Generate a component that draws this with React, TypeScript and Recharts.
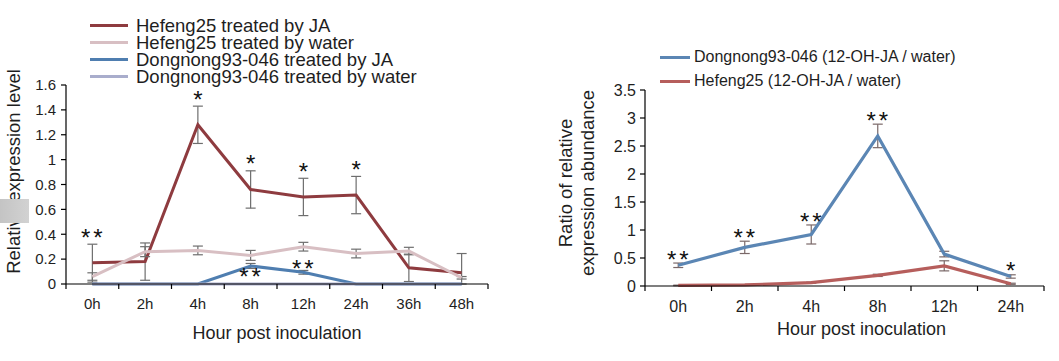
import React from 'react';
import { ComposedChart, Line, XAxis, YAxis, ErrorBar, LabelList, Legend, Label } from 'recharts';

// ---------- Left chart data ----------
const leftHours = ['0h', '2h', '4h', '8h', '12h', '24h', '36h', '48h'];
const hfJA = [0.17, 0.18, 1.28, 0.76, 0.7, 0.715, 0.13, 0.09];
const hfJAErrLow = [0.155, 0.15, 0.15, 0.15, 0.15, 0.15, 0.11, 0.09];
const hfJAErrHigh = [0.15, 0.15, 0.15, 0.15, 0.15, 0.15, 0.11, 0.155];
const hfWater = [0.06, 0.26, 0.27, 0.23, 0.3, 0.245, 0.265, 0.05];
const hfWaterErr = [0.03, 0.04, 0.035, 0.04, 0.035, 0.035, 0.03, 0.01];
const dnJA = [0, 0, 0, 0.145, 0.094, 0, 0, 0];
const dnJAErr = [0, 0, 0, 0.02, 0.015, 0, 0, 0];
const dnWater = [0, 0, 0, 0, 0, 0, 0, 0];
const dnWaterErr = [0, 0, 0, 0, 0, 0, 0, 0];
const hfStars = ['**', '', '*', '*', '*', '*', '', ''];
const dnStars = ['', '', '', '**', '**', '', '', ''];
const dnStarsBelow = [false, false, false, true, false, false, false, false];
const leftTicks = [0, 0.2, 0.4, 0.6, 0.8, 1, 1.2, 1.4, 1.6];
const leftNames = [
  'Hefeng25 treated by JA',
  'Hefeng25 treated by water',
  'Dongnong93-046 treated by JA',
  'Dongnong93-046 treated by water',
];

// ---------- Right chart data ----------
const rightHours = ['0h', '2h', '4h', '8h', '12h', '24h'];
const dnRatio = [0.37, 0.69, 0.92, 2.68, 0.57, 0.17];
const dnRatioErr = [0.04, 0.11, 0.17, 0.21, 0.05, 0.03];
const hfRatio = [0.01, 0.02, 0.06, 0.19, 0.36, 0.04];
const hfRatioErr = [0.005, 0.005, 0.01, 0.02, 0.09, 0.01];
const ratioStars = ['**', '**', '**', '**', '', '*'];
const rightTicks = [0, 0.5, 1, 1.5, 2, 2.5, 3, 3.5];
const rightNames = ['Dongnong93-046 (12-OH-JA / water)', 'Hefeng25 (12-OH-JA / water)'];

const leftData = leftHours.map((hour, i) => ({
  hour,
  hfJA: hfJA[i],
  hfJAErr: [hfJAErrLow[i], hfJAErrHigh[i]],
  hfJATop: hfJA[i] + hfJAErrHigh[i],
  hfWater: hfWater[i],
  hfWaterErr: hfWaterErr[i],
  dnJA: dnJA[i],
  dnJAErr: dnJAErr[i],
  dnWater: dnWater[i],
  dnWaterErr: dnWaterErr[i],
}));

const rightData = rightHours.map((hour, i) => ({
  hour,
  dn: dnRatio[i],
  dnErr: dnRatioErr[i],
  dnTop: dnRatio[i] + dnRatioErr[i],
  hf: hfRatio[i],
  hfErr: hfRatioErr[i],
}));

const FONT = "'Liberation Sans', Arial, sans-serif";
const TXT = '#1e1e1e';

// colors
const C_HF_JA = '#8e3b3f';
const C_HF_W = '#d8bfc3';
const C_DN_JA = '#4f7eb0';
const C_DN_W = '#a9adcc';
const C_R_DN = '#5b86b4';
const C_R_HF = '#b65e5c';

// layout constants
const L_W = 500;
const L_YW = 66;
const L_MR = 12;
const R_W = 519;
const R_YW = 105;
const R_MR = 15;
const H = 361;

const makeXTick = (n: number, bw: number, fs: number, dy: number) => (props: any) => {
  const { x, y, payload, index } = props;
  return (
    <g>
      <text x={x} y={y + dy} textAnchor="middle" fontSize={fs} fill={TXT} fontFamily={FONT}>
        {payload.value}
      </text>
      <line x1={x - bw / 2} x2={x - bw / 2} y1={y} y2={y + 5} stroke="#000" strokeWidth={1.2} />
      {index === n - 1 && (
        <line x1={x + bw / 2} x2={x + bw / 2} y1={y} y2={y + 5} stroke="#000" strokeWidth={1.2} />
      )}
    </g>
  );
};

const makeStar = (stars: string[], gap: number, below?: boolean[], belowGap = 0, fs = 24) => (props: any) => {
  const { x, y, index } = props;
  const s = stars[index];
  if (!s) return null;
  const isBelow = below ? below[index] : false;
  const center = isBelow ? y + belowGap : y - gap;
  return (
    <text
      x={x + (s.length > 1 ? 1 : 0)}
      y={center + 0.57 * fs}
      textAnchor="middle"
      fontSize={fs}
      fill="#111"
      fontFamily={FONT}
      letterSpacing={s.length > 1 ? 3 : 0}
    >
      {s}
    </text>
  );
};

const makeLegend = (order: string[], lineW: number, gap: number, rowH: number, fs: number) => (props: any) => {
  const payload = (props.payload || [])
    .filter((p: any) => p.type !== 'none' && order.indexOf(p.value) >= 0)
    .sort((a: any, b: any) => order.indexOf(a.value) - order.indexOf(b.value));
  return (
    <div style={{ fontFamily: FONT }}>
      {payload.map((p: any, i: number) => (
        <div key={i} style={{ display: 'flex', alignItems: 'center', height: rowH }}>
          <span style={{ display: 'inline-block', width: lineW, height: 3, background: p.color, marginRight: gap }} />
          <span style={{ fontSize: fs, color: TXT, lineHeight: `${rowH}px`, whiteSpace: 'nowrap' }}>{p.value}</span>
        </div>
      ))}
    </div>
  );
};

const LeftChart = () => {
  const bw = (L_W - L_YW - L_MR) / leftHours.length;
  return (
    <ComposedChart
      width={L_W}
      height={H}
      data={leftData}
      margin={{ top: 85, right: L_MR, bottom: 17, left: 0 }}
    >
      <XAxis
        dataKey="hour"
        scale="band"
        interval={0}
        height={60}
        tickLine={false}
        tickSize={0}
        tickMargin={0}
        axisLine={{ stroke: '#000', strokeWidth: 1.2 }}
        tick={makeXTick(leftHours.length, bw, 15, 25)}
      >
        <Label
          content={(p: any) => {
            const vb = p.viewBox;
            return (
              <text x={vb.x + vb.width / 2} y={vb.y + 55} textAnchor="middle" fontSize={18} fill={TXT} fontFamily={FONT}>
                Hour post inoculation
              </text>
            );
          }}
        />
      </XAxis>
      <YAxis
        width={L_YW}
        domain={[0, 1.6]}
        ticks={leftTicks}
        interval={0}
        tickSize={5}
        tickMargin={5}
        tickLine={{ stroke: '#000', strokeWidth: 1.2 }}
        axisLine={{ stroke: '#000', strokeWidth: 1.2 }}
        tick={{ fontSize: 15, fill: TXT, fontFamily: FONT }}
      >
        <Label
          content={(p: any) => {
            const vb = p.viewBox;
            const cx = vb.x + 13;
            const cy = vb.y + vb.height / 2 - 13;
            return (
              <text
                x={cx}
                y={cy}
                transform={`rotate(-90, ${cx}, ${cy})`}
                textAnchor="middle"
                dominantBaseline="central"
                fontSize={18.5}
                fill={TXT}
                fontFamily={FONT}
              >
                Relative expression level
              </text>
            );
          }}
        />
      </YAxis>
      <Legend
        layout="vertical"
        align="center"
        verticalAlign="middle"
        wrapperStyle={{ position: 'absolute', left: 90, top: 16.5, width: 400, height: 'auto' }}
        content={makeLegend(leftNames, 38, 8, 17, 18.5)}
      />
      <Line
        name={leftNames[0]}
        dataKey="hfJA"
        stroke={C_HF_JA}
        strokeWidth={3}
        dot={false}
        activeDot={false}
        isAnimationActive={false}
      >
        <ErrorBar dataKey="hfJAErr" width={5} stroke="#6e6e6e" strokeWidth={1.2} direction="y" isAnimationActive={false} />
      </Line>
      <Line
        name={leftNames[1]}
        dataKey="hfWater"
        stroke={C_HF_W}
        strokeWidth={3}
        dot={false}
        activeDot={false}
        isAnimationActive={false}
      >
        <ErrorBar dataKey="hfWaterErr" width={5} stroke="#6e6e6e" strokeWidth={1.2} direction="y" isAnimationActive={false} />
      </Line>
      <Line
        name={leftNames[2]}
        dataKey="dnJA"
        stroke={C_DN_JA}
        strokeWidth={3}
        dot={false}
        activeDot={false}
        isAnimationActive={false}
      >
        <ErrorBar dataKey="dnJAErr" width={5} stroke="#6e6e6e" strokeWidth={1.2} direction="y" isAnimationActive={false} />
        <LabelList dataKey="dnJA" content={makeStar(dnStars, 9, dnStarsBelow, 5)} />
      </Line>
      <Line
        name={leftNames[3]}
        dataKey="dnWater"
        stroke={C_DN_W}
        strokeWidth={3}
        dot={false}
        activeDot={false}
        isAnimationActive={false}
      >
        <ErrorBar dataKey="dnWaterErr" width={5} stroke="#6e6e6e" strokeWidth={1.2} direction="y" isAnimationActive={false} />
      </Line>
      <Line
        dataKey="hfJATop"
        stroke="none"
        dot={false}
        activeDot={false}
        legendType="none"
        isAnimationActive={false}
      >
        <LabelList dataKey="hfJATop" content={makeStar(hfStars, 12)} />
      </Line>
    </ComposedChart>
  );
};

const RightChart = () => {
  const bw = (R_W - R_YW - R_MR) / rightHours.length;
  return (
    <ComposedChart
      width={R_W}
      height={H}
      data={rightData}
      margin={{ top: 90, right: R_MR, bottom: 15, left: 0 }}
    >
      <XAxis
        dataKey="hour"
        scale="band"
        interval={0}
        height={60}
        tickLine={false}
        tickSize={0}
        tickMargin={0}
        axisLine={{ stroke: '#000', strokeWidth: 1.2 }}
        tick={makeXTick(rightHours.length, bw, 16, 26)}
      >
        <Label
          content={(p: any) => {
            const vb = p.viewBox;
            return (
              <text x={vb.x + vb.width / 2 + 17} y={vb.y + 49} textAnchor="middle" fontSize={18} fill={TXT} fontFamily={FONT}>
                Hour post inoculation
              </text>
            );
          }}
        />
      </XAxis>
      <YAxis
        width={R_YW}
        domain={[0, 3.5]}
        ticks={rightTicks}
        interval={0}
        tickSize={5}
        tickMargin={4}
        tickLine={{ stroke: '#000', strokeWidth: 1.2 }}
        axisLine={{ stroke: '#000', strokeWidth: 1.2 }}
        tick={{ fontSize: 16, fill: TXT, fontFamily: FONT }}
      >
        <Label
          content={(p: any) => {
            const vb = p.viewBox;
            const cy = vb.y + vb.height / 2 - 5;
            const x1 = vb.x + 25;
            const x2 = vb.x + 47;
            return (
              <g>
                <text
                  x={x1}
                  y={cy}
                  transform={`rotate(-90, ${x1}, ${cy})`}
                  textAnchor="middle"
                  dominantBaseline="central"
                  fontSize={18.5}
                  fill={TXT}
                  fontFamily={FONT}
                >
                  Ratio of relative
                </text>
                <text
                  x={x2}
                  y={cy}
                  transform={`rotate(-90, ${x2}, ${cy})`}
                  textAnchor="middle"
                  dominantBaseline="central"
                  fontSize={18.5}
                  fill={TXT}
                  fontFamily={FONT}
                >
                  expression abundance
                </text>
              </g>
            );
          }}
        />
      </YAxis>
      <Legend
        layout="vertical"
        align="center"
        verticalAlign="middle"
        wrapperStyle={{ position: 'absolute', left: 120, top: 45, width: 380, height: 'auto' }}
        content={makeLegend(rightNames, 30, 4, 24, 16)}
      />
      <Line
        name={rightNames[0]}
        dataKey="dn"
        stroke={C_R_DN}
        strokeWidth={3.2}
        dot={false}
        activeDot={false}
        isAnimationActive={false}
      >
        <ErrorBar dataKey="dnErr" width={5} stroke="#7a6868" strokeWidth={1.2} direction="y" isAnimationActive={false} />
      </Line>
      <Line
        name={rightNames[1]}
        dataKey="hf"
        stroke={C_R_HF}
        strokeWidth={3.2}
        dot={false}
        activeDot={false}
        isAnimationActive={false}
      >
        <ErrorBar dataKey="hfErr" width={5} stroke="#7a6868" strokeWidth={1.2} direction="y" isAnimationActive={false} />
      </Line>
      <Line
        dataKey="dnTop"
        stroke="none"
        dot={false}
        activeDot={false}
        legendType="none"
        isAnimationActive={false}
      >
        <LabelList dataKey="dnTop" content={makeStar(ratioStars, 9)} />
      </Line>
    </ComposedChart>
  );
};

export default function App() {
  return (
    <div
      style={{
        position: 'absolute',
        left: 0,
        top: 0,
        width: 1059,
        height: 361,
        background: '#fff',
        fontFamily: FONT,
        overflow: 'hidden',
      }}
    >
      <div style={{ position: 'absolute', left: 0, top: 0, width: L_W, height: H }}>
        <LeftChart />
      </div>
      <div style={{ position: 'absolute', left: 540, top: 0, width: R_W, height: H }}>
        <RightChart />
      </div>
      <div
        style={{
          position: 'absolute',
          left: 0,
          top: 199,
          width: 29,
          height: 24,
          background: 'linear-gradient(90deg, #c4c4c4, #d2d2d2)',
        }}
      />
    </div>
  );
}
